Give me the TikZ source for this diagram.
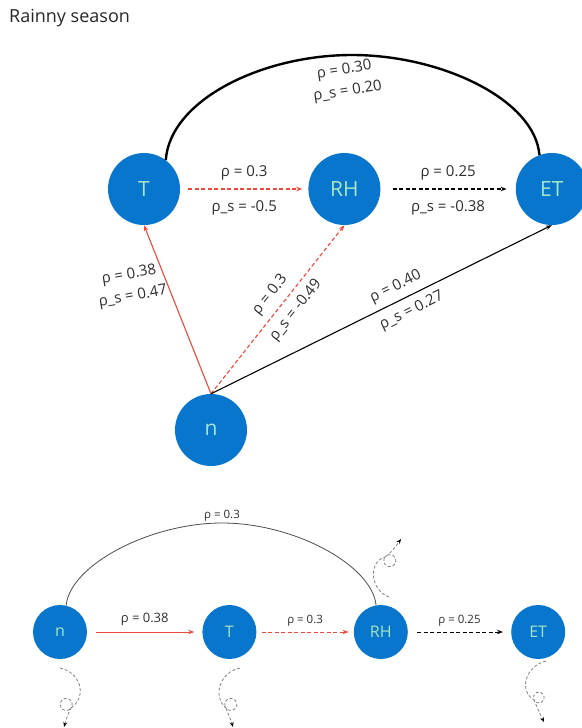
\documentclass[tikz,border=0pt]{standalone}
\usepackage{fontspec}
\setmainfont{Open Sans}
\usetikzlibrary{arrows.meta,positioning}

\definecolor{varblue}{RGB}{8,118,204}
\definecolor{vartext}{RGB}{168,230,196}
\definecolor{linkred}{RGB}{238,72,60}
\definecolor{lbltext}{RGB}{45,45,45}

\begin{document}
\begin{tikzpicture}[
    x=1pt, y=-1pt,
    var/.style={circle, fill=varblue, text=vartext, minimum size=72pt, inner sep=0pt, font=\fontsize{21}{24}\selectfont},
    smallvar/.style={var, minimum size=54pt, font=\fontsize{16}{19}\selectfont},
    lbl/.style={text=lbltext, inner sep=3pt, font=\fontsize{15}{22}\selectfont},
    midlbl/.style={lbl, inner sep=2pt, font=\fontsize{13}{15}\selectfont},
    smalllbl/.style={lbl, inner sep=2pt, font=\fontsize{11.5}{13}\selectfont},
    dashline/.style={dash pattern=on 4pt off 2.5pt},
    arrow/.style={-{Stealth[length=6pt,width=4.5pt]}, line width=1.1pt},
    redarrow/.style={arrow, draw=linkred},
    selfloop/.style={draw=gray, line width=0.8pt, densely dashed, -{Stealth[length=5pt,width=4pt,color=black]}}
]
\useasboundingbox (0,0) rectangle (581,728);

% Title
\node[anchor=west, inner sep=0pt, text=black!85, font=\fontsize{18}{21}\selectfont] (title) at (9,18) {Rainny season};

% Top row
\node[var] (T) at (144,189) {T};
\node[var, right=128pt of T] (RH) {RH};
\node[var, right=135pt of RH] (ET) {ET};
\node[var] (n) at (211,430) {n};

% Top arrows
\draw[redarrow, dashline, shorten <=8pt, shorten >=6pt] (T) -- node[lbl, above=5pt] (trh1) {ρ = 0.3} node[lbl, below=8pt] (trh2) {ρ\_s = -0.5} (RH);
\draw[arrow, dashline, shorten <=12pt, shorten >=9pt] (RH) -- node[lbl, above=5pt] (rhet1) {ρ = 0.25} node[lbl, below=8pt] (rhet2) {ρ\_s = -0.38} (ET);
\draw[line width=2.4pt] (T.53) .. controls (170,100) and (262,55) .. (352,55) coordinate (arctop) .. controls (442,55) and (535,100) .. (ET.110);
\node[lbl, align=center, rotate=9] (tet) at ([xshift=-6pt, yshift=-26pt]arctop) {ρ = 0.30\\ρ\_s = 0.20};

% From n
\draw[redarrow] (n.north) -- (T.south);
\node[lbl, align=center, rotate=10] (nt) at (131,286) {ρ = 0.38\\ρ\_s = 0.47};
\draw[redarrow, dashline] (n.north) -- node[lbl, sloped, above=4pt, pos=0.53] (nrh1) {ρ = 0.3} node[lbl, sloped, below=4pt, pos=0.55] (nrh2) {ρ\_s = -0.49} (RH.south);
\draw[arrow] (n.north) -- node[lbl, sloped, above=3pt, pos=0.56] (net1) {ρ = 0.40} node[lbl, sloped, below=4pt, pos=0.57] (net2) {ρ\_s = 0.27} (ET.south);

% Bottom row
\node[smallvar] (n2) at (60,632) {n};
\node[smallvar, right=115pt of n2] (T2) {T};
\node[smallvar, right=97pt of T2] (RH2) {RH};
\node[smallvar, right=103pt of RH2] (ET2) {ET};

% Bottom arrows
\draw[redarrow, line width=0.9pt, shorten <=9pt, shorten >=8pt] (n2) -- node[midlbl, above=4pt] (nt2) {ρ = 0.38} (T2);
\draw[redarrow, line width=0.9pt, dashline, shorten <=5pt, shorten >=5pt] (T2) -- node[smalllbl, above=3pt] (trh3) {ρ = 0.3} (RH2);
\draw[arrow, line width=0.9pt, dashline, shorten <=9pt, shorten >=8pt] (RH2) -- node[smalllbl, above=3pt] (rhet3) {ρ = 0.25} (ET2);
\draw[black!70, line width=0.8pt] (n2.77) .. controls (70,565) and (150,523) .. (222,523) coordinate (arctop2) .. controls (294,523) and (372,565) .. (RH2.100);
\node[smalllbl, above=0pt of arctop2] (nrh3) {ρ = 0.3};

% Self loops
\coordinate (rhloop) at (389,597);
\coordinate (nloop) at (60,668);
\coordinate (tloop) at (240,668);
\coordinate (etloop) at (546,661);
\draw[selfloop] (rhloop) .. controls (370,590) and (368,562) .. (385,557) arc[start angle=143, delta angle=-360, radius=6pt] .. controls (392,552) and (396,546) .. (401,539);
\draw[selfloop] (nloop) .. controls (80,672) and (88,696) .. (71,708) arc[start angle=-37, delta angle=-360, radius=6pt] .. controls (68,714) and (66,720) .. (64,727);
\draw[selfloop] (tloop) .. controls (220,672) and (212,696) .. (226,708) arc[start angle=217, delta angle=360, radius=6pt] .. controls (228,714) and (231,720) .. (233,727);
\draw[selfloop] (etloop) .. controls (526,666) and (518,690) .. (534,700) arc[start angle=207, delta angle=360, radius=5.5pt] .. controls (537,707) and (540,714) .. (544,722);

\end{tikzpicture}
\end{document}
